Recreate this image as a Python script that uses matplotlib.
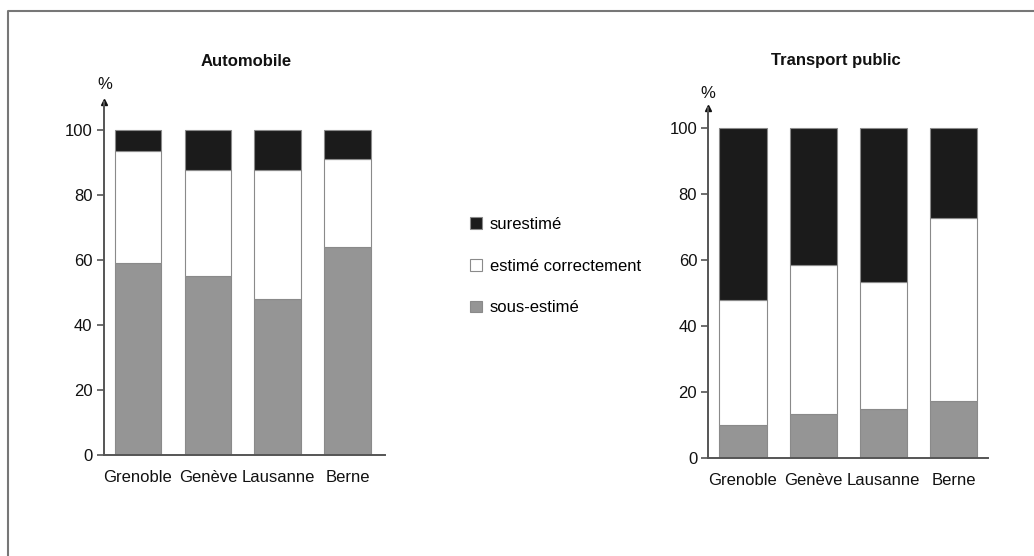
import matplotlib
matplotlib.use("Agg")
import matplotlib.pyplot as plt
from matplotlib.patches import Patch
from matplotlib.lines import Line2D
import numpy as np

plt.rcParams['font.family'] = ['Liberation Sans', 'DejaVu Sans']

cities = ["Grenoble", "Genève", "Lausanne", "Berne"]
series = ["surestimé", "estimé correctement", "sous-estimé"]

# Automobile (cumulative tops)
auto_sous = [59.1, 55.2, 48.1, 63.9]
auto_correct_top = [93.7, 87.7, 87.7, 91.0]
# Transport public
tp_sous = [9.9, 13.4, 14.9, 17.1]
tp_correct_top = [47.9, 58.4, 53.5, 72.9]

auto_correct = [t - s for t, s in zip(auto_correct_top, auto_sous)]
auto_sur = [100 - t for t in auto_correct_top]
tp_correct = [t - s for t, s in zip(tp_correct_top, tp_sous)]
tp_sur = [100 - t for t in tp_correct_top]

C_DARK = "#1b1b1b"
C_WHITE = "#ffffff"
C_GRAY = "#959595"
EDGE = "#8a8a8a"
AXC = "#555555"

W, H = 1034, 556
fig = plt.figure(figsize=(W / 100, H / 100), dpi=100)


def fx(px):
    return px / W


def fy(py):
    return 1 - py / H


def make_axes(x0, x1, y0, ytop, xlo, xhi, ymax, sous, corr, sur, title, title_x, title_y, pct_x, pct_y):
    ax = fig.add_axes([fx(x0), fy(y0), fx(x1) - fx(x0), fy(ytop) - fy(y0)])
    x = np.arange(len(cities))
    bw = 0.67
    ax.bar(x, sous, bw, color=C_GRAY, edgecolor=EDGE, linewidth=0.8)
    ax.bar(x, corr, bw, bottom=sous, color=C_WHITE, edgecolor=EDGE, linewidth=0.8)
    ax.bar(x, sur, bw, bottom=np.array(sous) + np.array(corr), color=C_DARK, edgecolor=EDGE, linewidth=0.8)
    ax.set_xlim(xlo, xhi)
    ax.set_ylim(0, ymax)
    ax.set_yticks([0, 20, 40, 60, 80, 100])
    ax.set_xticks(x)
    ax.set_xticklabels(cities)
    for s in ["top", "right"]:
        ax.spines[s].set_visible(False)
    for s in ["left", "bottom"]:
        ax.spines[s].set_color(AXC)
        ax.spines[s].set_linewidth(1.4)
    ax.tick_params(axis='y', length=5, width=1.2, color=AXC, pad=3, labelsize=12, labelcolor="#111111")
    ax.tick_params(axis='x', length=0, pad=11, labelsize=12, labelcolor="#111111")
    # arrow on y-axis
    ax.plot([xlo], [ymax], marker="^", color="#111111", markersize=5, clip_on=False, transform=ax.transData)
    fig.text(fx(title_x), fy(title_y), title, ha="center", va="center", fontsize=12, fontweight="bold", color="#111111")
    fig.text(fx(pct_x), fy(pct_y), "%", ha="center", va="center", fontsize=12, color="#111111")
    return ax


make_axes(103.7, 385, 455, 102, -0.49, 3.53, 108.7, auto_sous, auto_correct, auto_sur,
          "Automobile", 246, 62, 105, 85)
make_axes(708.3, 988, 457.7, 108.3, -0.494, 3.49, 106.1, tp_sous, tp_correct, tp_sur,
          "Transport public", 836, 61, 708, 93)

handles = [Patch(facecolor=C_DARK, edgecolor=EDGE, linewidth=0.8),
           Patch(facecolor=C_WHITE, edgecolor=EDGE, linewidth=0.8),
           Patch(facecolor=C_GRAY, edgecolor=EDGE, linewidth=0.8)]
fig.legend(handles, series, loc="center left", bbox_to_anchor=(fx(470), fy(266)),
           frameon=False, fontsize=12, handlelength=0.7, handleheight=0.7,
           handletextpad=0.5, labelspacing=1.6, borderpad=0, borderaxespad=0)

# outer frame (left and top edges visible)
fig.add_artist(Line2D([fx(8), fx(8), 1.0], [0, fy(11), fy(11)],
                      transform=fig.transFigure, color="#777777", linewidth=1.5))

fig.savefig("out.png", dpi=100)
